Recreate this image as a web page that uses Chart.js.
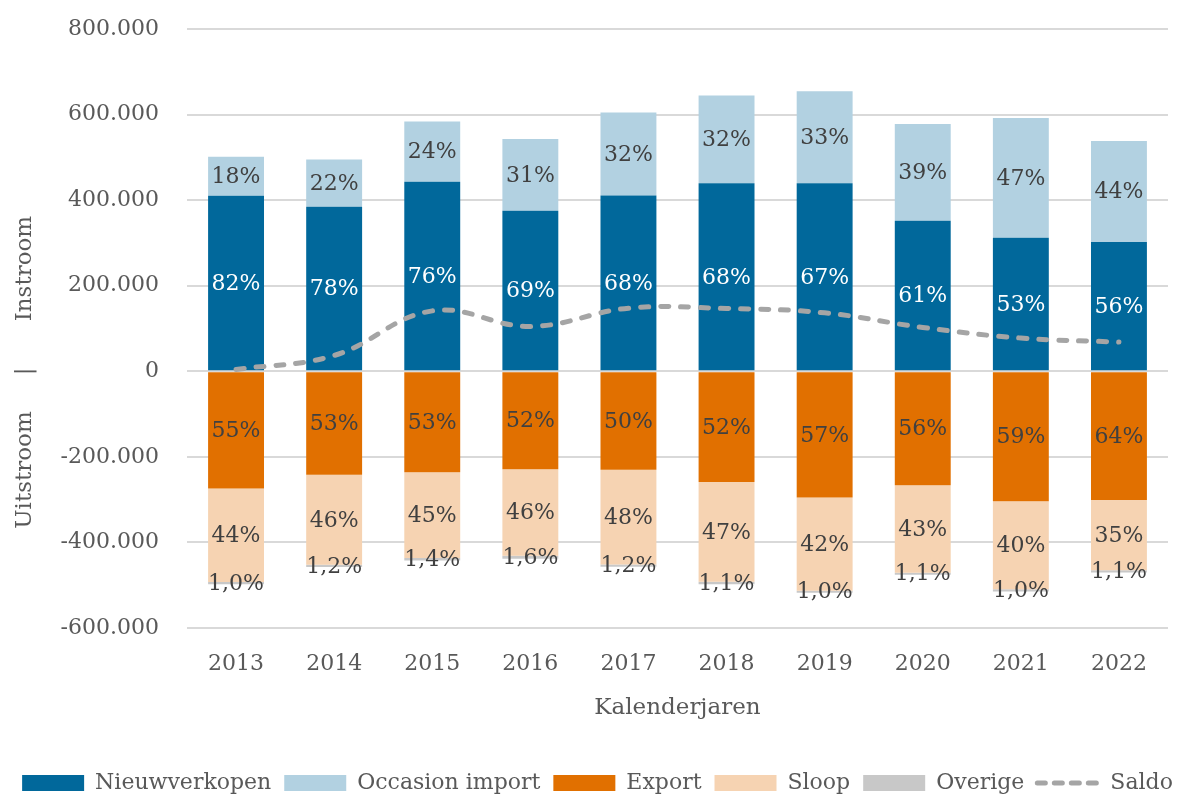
<!DOCTYPE html>
<html lang="nl">
<head>
<meta charset="utf-8">
<title>Instroom en uitstroom personenauto's</title>
<script src="https://cdn.jsdelivr.net/npm/chart.js@4.4.1/dist/chart.umd.min.js"></script>
<style>
  html, body { margin: 0; padding: 0; background: #ffffff; }
  #wrap { width: 1195px; height: 794px; }
</style>
</head>
<body>
<div id="wrap"><canvas id="chart" width="1195" height="794"></canvas></div>
<script>
const years = ['2013', '2014', '2015', '2016', '2017', '2018', '2019', '2020', '2021', '2022'];

// instroom (positief)
const nieuwverkopen = [410500, 384800, 443200, 375400, 411000, 439300, 439300, 352000, 312300, 302200];
const occasionImport = [91200, 109900, 140400, 167600, 193600, 205100, 215200, 226200, 279900, 236200];

// uitstroom (negatief)
const exportData = [-274000, -242100, -235900, -228800, -230400, -258500, -295200, -266200, -303600, -300600];
const sloop = [-218500, -210100, -200300, -202400, -221200, -233600, -217500, -204400, -205800, -164400];
const overige = [-5000, -5500, -6230, -7040, -5530, -5470, -5180, -5230, -5150, -5170];

// saldo instroom - uitstroom
const saldo = [4200, 37000, 141200, 104800, 147500, 146800, 136600, 102400, 77700, 68200];

const yTicks = [-600000, -400000, -200000, 0, 200000, 400000, 600000, 800000];

const FONT = "'DejaVu Serif', 'Liberation Serif', serif";
const TEXT = '#595959';

Chart.defaults.font.family = FONT;
Chart.defaults.color = TEXT;

function formatNumber(v) {
    const s = Math.abs(v).toString().replace(/\B(?=(\d{3})+(?!\d))/g, '.');
    return (v < 0 ? '-' : '') + s;
}

// percentage labels inside the bar segments
const segmentLabels = {
    id: 'segmentLabels',
    afterDatasetsDraw(chart) {
        const ctx = chart.ctx;
        const ds = chart.data.datasets;
        ctx.save();
        ctx.font = '22px ' + FONT;
        ctx.textAlign = 'center';
        ctx.textBaseline = 'middle';
        ds.forEach((dataset, di) => {
            if (dataset.type === 'line') return;
            const meta = chart.getDatasetMeta(di);
            meta.data.forEach((bar, i) => {
                const v = dataset.data[i];
                let total = 0;
                ds.forEach(d => {
                    if (d.type !== 'line' && Math.sign(d.data[i]) === Math.sign(v)) total += d.data[i];
                });
                const pct = v / total * 100;
                const text = dataset.decimals ? pct.toFixed(1).replace('.', ',') + '%' : Math.round(pct) + '%';
                ctx.fillStyle = dataset.labelColor;
                ctx.fillText(text, bar.x, (bar.y + bar.base) / 2 + 1);
            });
        });
        ctx.restore();
    }
};

// axis title split around the zero line
const yTitle = {
    id: 'yTitle',
    afterDraw(chart) {
        const ctx = chart.ctx;
        const y0 = chart.scales.y.getPixelForValue(0);
        ctx.save();
        ctx.translate(25, y0);
        ctx.rotate(-Math.PI / 2);
        ctx.font = '23px ' + FONT;
        ctx.fillStyle = TEXT;
        ctx.textBaseline = 'middle';
        ctx.textAlign = 'center';
        ctx.fillText('|', 0, 0);
        ctx.textAlign = 'left';
        ctx.fillText('Instroom', 50, 0);
        ctx.textAlign = 'right';
        ctx.fillText('Uitstroom', -40, 0);
        ctx.restore();
    }
};

const barOpts = {
    type: 'bar',
    stack: 'stroom',
    barPercentage: 0.57,
    categoryPercentage: 1,
    borderWidth: 0
};

new Chart(document.getElementById('chart'), {
    data: {
        labels: years,
        datasets: [
            { ...barOpts, label: 'Nieuwverkopen', data: nieuwverkopen, backgroundColor: '#01689B', labelColor: '#ffffff' },
            { ...barOpts, label: 'Occasion import', data: occasionImport, backgroundColor: '#B2D1E1', labelColor: '#404040' },
            { ...barOpts, label: 'Export', data: exportData, backgroundColor: '#E17000', labelColor: '#404040' },
            { ...barOpts, label: 'Sloop', data: sloop, backgroundColor: '#F6D3B2', labelColor: '#404040' },
            { ...barOpts, label: 'Overige', data: overige, backgroundColor: '#C8C8C8', labelColor: '#404040', decimals: true },
            {
                type: 'line',
                label: 'Saldo',
                data: saldo,
                stack: 'saldo',
                order: -1,
                borderColor: '#A5A5A5',
                borderWidth: 5,
                borderDash: [8, 12],
                borderCapStyle: 'round',
                tension: 0.4,
                pointRadius: 0,
                fill: false
            }
        ]
    },
    options: {
        responsive: false,
        animation: false,
        devicePixelRatio: 1,
        layout: { padding: { top: 29, right: 0, bottom: -10, left: 0 } },
        scales: {
            x: {
                stacked: true,
                grid: { display: false, drawTicks: false },
                border: { display: false },
                ticks: { padding: 23, font: { size: 22 }, color: TEXT },
                title: {
                    display: true,
                    text: 'Kalenderjaren',
                    font: { size: 23 },
                    color: TEXT,
                    padding: { top: -6, bottom: 37 }
                }
            },
            y: {
                stacked: true,
                min: -600000,
                max: 800000,
                afterBuildTicks: scale => {
                    scale.ticks = yTicks.map(v => ({ value: v }));
                },
                afterFit: scale => {
                    scale.width = 187;
                },
                // tick marks are invisible, they only keep the labels away from the grid
                grid: { color: '#D9D9D9', lineWidth: 2, drawTicks: true, tickLength: 28, tickColor: 'rgba(0,0,0,0)' },
                border: { display: false },
                ticks: {
                    padding: 0,
                    font: { size: 22 },
                    color: TEXT,
                    callback: v => formatNumber(v)
                }
            },
            // empty strip on the right side of the plot
            yRight: {
                position: 'right',
                grid: { display: false },
                border: { display: false },
                ticks: { display: false },
                afterFit: scale => {
                    scale.width = 27;
                }
            }
        },
        plugins: {
            tooltip: { enabled: false },
            legend: {
                position: 'bottom',
                labels: {
                    usePointStyle: true,
                    pointStyleWidth: 62,
                    boxHeight: 16,
                    padding: 13,
                    color: TEXT,
                    font: { size: 22 },
                    generateLabels: chart => chart.data.datasets.map((d, i) => {
                        if (d.type === 'line') {
                            return {
                                text: d.label, datasetIndex: i, pointStyle: 'line',
                                fillStyle: d.borderColor, strokeStyle: d.borderColor,
                                lineWidth: 5, lineDash: [8, 9], lineCap: 'round', fontColor: TEXT
                            };
                        }
                        return {
                            text: d.label, datasetIndex: i, pointStyle: 'rect',
                            fillStyle: d.backgroundColor, strokeStyle: d.backgroundColor,
                            lineWidth: 0, fontColor: TEXT
                        };
                    })
                }
            }
        }
    },
    plugins: [segmentLabels, yTitle]
});
</script>
</body>
</html>
